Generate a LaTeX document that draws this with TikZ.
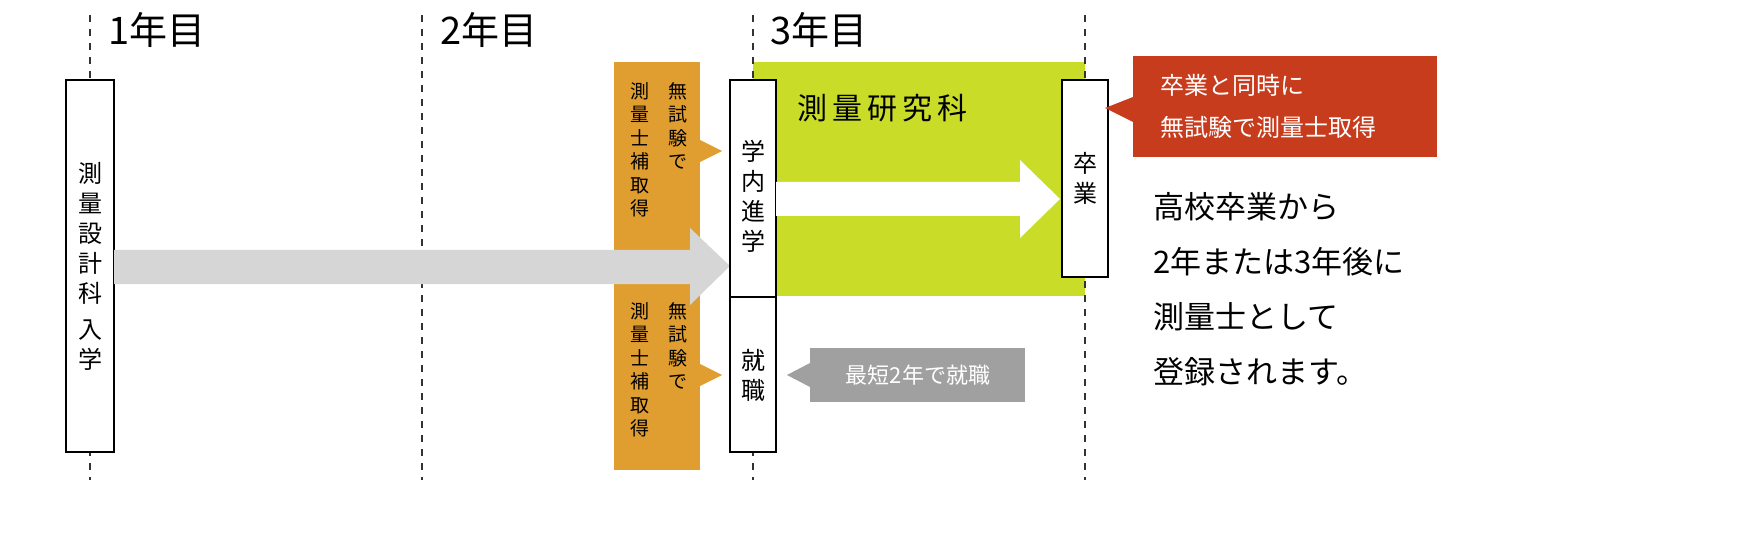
\documentclass[tikz,border=0pt]{standalone}
\usepackage{fontspec}
\setmainfont{Noto Sans CJK JP}
\definecolor{org}{HTML}{E09E30}\definecolor{grn}{HTML}{C8DC28}
\definecolor{rd}{HTML}{C83C1E}\definecolor{gy}{HTML}{A0A0A0}\definecolor{lg}{HTML}{D6D6D6}
\begin{document}
\begin{tikzpicture}[x=1pt,y=-1pt,
  dln/.style={dash pattern=on 7pt off 7pt,line width=1.2pt,black!80},
  box/.style={draw=black,line width=1.5pt,fill=white},
  vt/.style={align=center,font=\fontsize{24}{30}\selectfont,inner sep=0},
  ot/.style={align=center,font=\fontsize{19}{23.5}\selectfont,inner sep=0},
  yr/.style={anchor=west,font=\fontsize{38}{40}\selectfont,inner sep=0}]
\fill[org] (614,62) rectangle (700,470);
\fill[org] (700,140) -- (722,151) -- (700,162) -- cycle;
\fill[org] (700,364) -- (722,375) -- (700,386) -- cycle;
\fill[grn] (753,62) rectangle (1085,296);
\foreach \x in {90,422,753,1085} \draw[dln] (\x,15) -- (\x,480);
\node[yr] (y1) at (108,30) {1年目};
\node[yr] (y2) at (440,30) {2年目};
\node[yr] (y3) at (770,30) {3年目};
\node[box,minimum width=48pt,minimum height=372pt,inner sep=0] (b1) at (90,266) {};
\node[vt] (t1) at (90,266) {測\\量\\設\\計\\科\\[6pt]入\\学};
\fill[lg] (114,250) -- (690,250) -- (690,228) -- (730,266) -- (690,305) -- (690,284) -- (114,284) -- cycle;
\node[box,minimum width=46pt,minimum height=217pt,inner sep=0] (b2) at (753,188.5) {};
\node[vt] at (753,196) {学\\内\\進\\学};
\node[box,minimum width=46pt,minimum height=155pt,inner sep=0] (b3) at (753,374.5) {};
\node[vt] at (753,375) {就\\職};
\node[ot,anchor=north] at (678,82) {無\\試\\験\\で};
\node[ot,anchor=north] at (640,82) {測\\量\\士\\補\\取\\得};
\node[ot,anchor=north] at (678,302) {無\\試\\験\\で};
\node[ot,anchor=north] at (640,302) {測\\量\\士\\補\\取\\得};
\node[anchor=west,font=\fontsize{30}{32}\selectfont,inner sep=0] (g) at (797,108) {測\,量\,研\,究\,科};
\fill[white] (776,182) -- (1020,182) -- (1020,160) -- (1060,199) -- (1020,238) -- (1020,216) -- (776,216) -- cycle;
\node[box,minimum width=46pt,minimum height=197pt,inner sep=0] (b4) at (1085,178.5) {};
\node[vt] at (1085,178) {卒\\業};
\fill[rd] (1133,56) rectangle (1437,157);
\fill[rd] (1133,97) -- (1105,108) -- (1133,122) -- cycle;
\node[align=left,anchor=west,text=white,font=\fontsize{24}{42}\selectfont,inner sep=0] at (1160,106) {卒業と同時に\\無試験で測量士取得};
\fill[gy] (810,348) rectangle (1025,402);
\fill[gy] (810,363) -- (787,375) -- (810,387) -- cycle;
\node[text=white,font=\fontsize{22}{24}\selectfont,inner sep=0] at (918,375) {最短2年で就職};
\node[align=left,anchor=north west,font=\fontsize{31}{55}\selectfont,inner sep=0] at (1153,192) {高校卒業から\\2年または3年後に\\測量士として\\登録されます。};
\pgfresetboundingbox
\useasboundingbox (0,0) rectangle (1744,545);
\end{tikzpicture}
\end{document}
